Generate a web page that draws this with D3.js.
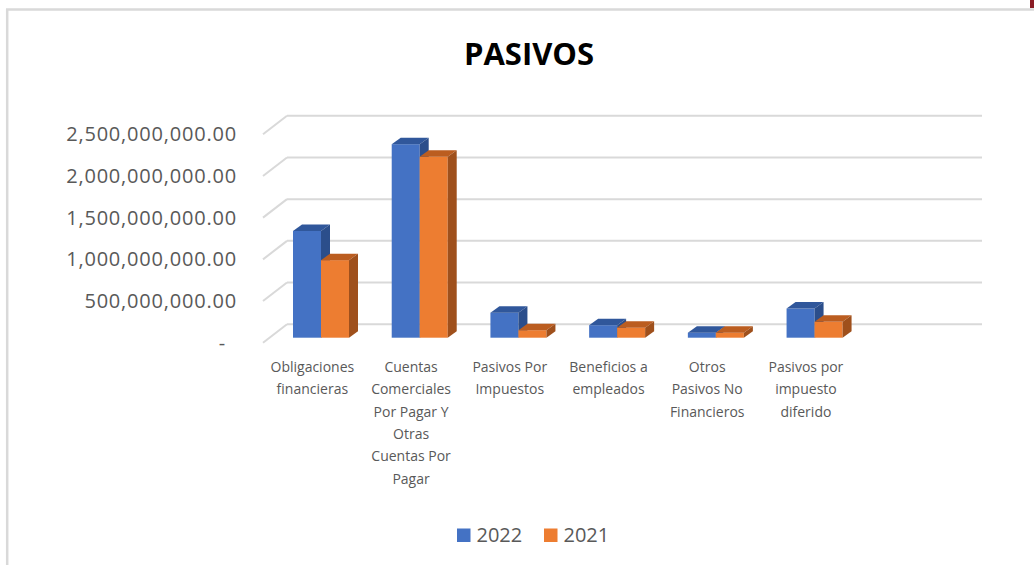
<!DOCTYPE html>
<html>
<head>
<meta charset="utf-8">
<script src="https://cdn.jsdelivr.net/npm/d3@7"></script>
<style>
  body { margin: 0; background: #fff; }
  svg { display: block; font-family: "Open Sans", sans-serif; }
</style>
</head>
<body>
<svg id="chart" width="1034" height="565"></svg>
<script>
// data
const categories = [
  "Obligaciones financieras",
  "Cuentas Comerciales Por Pagar Y Otras Cuentas Por Pagar",
  "Pasivos Por Impuestos",
  "Beneficios a empleados",
  "Otros Pasivos No Financieros",
  "Pasivos por impuesto diferido"
]
//the line breaks the way the original chart wraps them
const categoryLines = [
  ["Obligaciones", "financieras"],
  ["Cuentas", "Comerciales", "Por Pagar Y", "Otras", "Cuentas Por", "Pagar"],
  ["Pasivos Por", "Impuestos"],
  ["Beneficios a", "empleados"],
  ["Otros", "Pasivos No", "Financieros"],
  ["Pasivos por", "impuesto", "diferido"]
]
const seriesNames = ["2022", "2021"]
const values2022 = [1.28e9, 2.32e9, 0.30e9, 0.15e9, 0.06e9, 0.35e9]
const values2021 = [0.93e9, 2.17e9, 0.09e9, 0.12e9, 0.06e9, 0.19e9]
const yTicks = [0, 5e8, 1e9, 1.5e9, 2e9, 2.5e9]

const colors = {
  "2022": {front: "#4472c4", top: "#30579b", side: "#2b4e8b"},
  "2021": {front: "#ed7d31", top: "#bb5d20", side: "#9f501c"}
}

const svg = d3.select("#chart")

//frame of the chart object (only top and left edges show)
svg.append("line").attr("x1", 6).attr("x2", 1034).attr("y1", 9.5).attr("y2", 9.5)
  .attr("stroke", "#d9d9d9").attr("stroke-width", 2.5)
svg.append("line").attr("x1", 7.2).attr("x2", 7.2).attr("y1", 9).attr("y2", 565)
  .attr("stroke", "#d9d9d9").attr("stroke-width", 2.5)
svg.append("rect").attr("x", 1030).attr("y", 0).attr("width", 4).attr("height", 8).attr("fill", "#8a1c24")

svg.append("text")
  .attr("x", 529).attr("y", 65)
  .attr("text-anchor", "middle")
  .attr("font-size", 31).attr("font-weight", "bold").attr("fill", "#000")
  .text("PASIVOS")

//3d walls: back wall y, front edge y and the bar plane y
const yBack = d3.scaleLinear().domain([0, 2.5e9]).range([324.3, 115.7])
const yFront = d3.scaleLinear().domain([0, 2.5e9]).range([342.8, 134.2])
const yBar = d3.scaleLinear().domain([0, 2.5e9]).range([337.7, 129.2])
const slots = d3.range(categories.length + 1) //one empty slot at the end, as in the original
const xCat = d3.scaleBand().domain(slots).range([263, 954])
const xSer = d3.scaleBand().domain(seriesNames).range([0, 56])
const wallX0 = 263, wallX1 = 287, wallEnd = 982
const barShift = 30, depthDx = 9, depthDy = -6.5

const grid = svg.append("g").attr("stroke", "#d9d9d9").attr("stroke-width", 2).attr("fill", "none")
grid.selectAll("line.h")
  .data(yTicks)
  .join("line")
  .attr("class", "h")
  .attr("x1", wallX1).attr("x2", wallEnd)
  .attr("y1", d => yBack(d)).attr("y2", d => yBack(d))
grid.selectAll("line.d")
  .data(yTicks)
  .join("line")
  .attr("class", "d")
  .attr("x1", wallX0).attr("y1", d => yFront(d))
  .attr("x2", wallX1).attr("y2", d => yBack(d))

//value axis on the front edge
const fmt = d3.format(",.2f")
const yAxis = svg.append("g")
  .attr("transform", "translate(245,0)")
  .call(d3.axisLeft(yFront).tickValues(yTicks).tickSize(0).tickPadding(8)
    .tickFormat(d => d === 0 ? "-" : fmt(d)))
yAxis.select(".domain").remove()
yAxis.selectAll("text")
  .attr("font-family", "Open Sans, sans-serif")
  .attr("font-size", 20).attr("fill", "#595959")
  .attr("letter-spacing", 0.8)
  .attr("dx", d => d === 0 ? -11 : 0)

//bars, drawn left to right so later faces hide earlier sides
const rows = []
categories.forEach((c, i) => {
  rows.push({i, s: "2022", v: values2022[i]})
  rows.push({i, s: "2021", v: values2021[i]})
})
const bars = svg.append("g").selectAll("g")
  .data(rows)
  .join("g")
bars.each(function(d) {
  const g = d3.select(this)
  const x0 = xCat(d.i) + barShift + xSer(d.s)
  const w = xSer.bandwidth()
  const yt = yBar(d.v), yb = yBar(0)
  const col = colors[d.s]
  g.append("rect").attr("x", x0).attr("y", yt).attr("width", w).attr("height", yb - yt).attr("fill", col.front)
  g.append("path")
    .attr("d", `M${x0},${yt}L${x0 + w},${yt}L${x0 + w + depthDx},${yt + depthDy}L${x0 + depthDx},${yt + depthDy}Z`)
    .attr("fill", col.top)
  g.append("path")
    .attr("d", `M${x0 + w},${yt}L${x0 + w + depthDx},${yt + depthDy}L${x0 + w + depthDx},${yb + depthDy}L${x0 + w},${yb}Z`)
    .attr("fill", col.side)
})

//category labels
const catLabels = svg.append("g")
  .attr("font-size", 14).attr("fill", "#595959").attr("text-anchor", "middle")
catLabels.selectAll("text")
  .data(categories)
  .join("text")
  .attr("x", (d, i) => xCat(i) + xCat.bandwidth() / 2)
  .attr("y", 372)
  .selectAll("tspan")
  .data((d, i) => categoryLines[i])
  .join("tspan")
  .attr("x", function() { return d3.select(this.parentNode).attr("x") })
  .attr("dy", (d, j) => j === 0 ? 0 : 22.3)
  .text(d => d)

//legend
const legend = svg.append("g").attr("font-size", 20).attr("fill", "#595959")
const legendX = [457, 544]
seriesNames.forEach((s, i) => {
  legend.append("rect").attr("x", legendX[i]).attr("y", 528.5).attr("width", 13.5).attr("height", 13.5)
    .attr("fill", colors[s].front)
  legend.append("text").attr("x", legendX[i] + 19.5).attr("y", 542).text(s)
})
</script>
</body>
</html>
